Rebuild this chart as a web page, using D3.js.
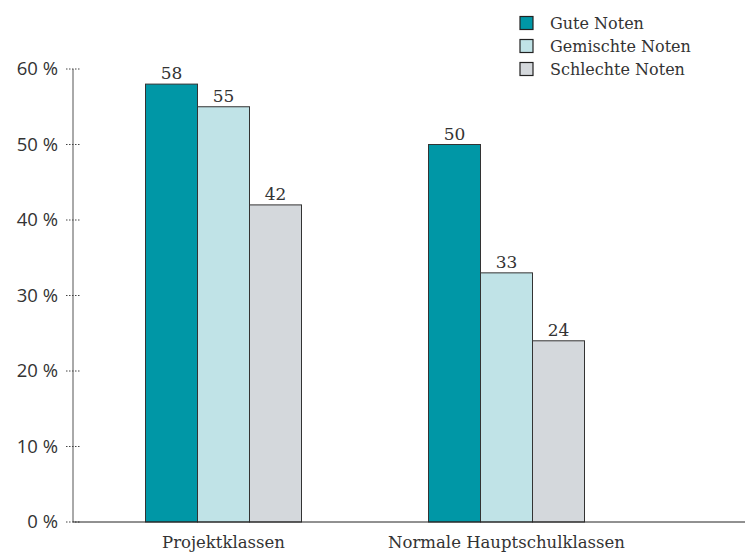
<!DOCTYPE html>
<html>
<head>
<meta charset="utf-8">
<script src="https://cdn.jsdelivr.net/npm/d3@7"></script>
<style>
  body { margin: 0; background: #fff; }
  svg { display: block; }
</style>
</head>
<body>
<svg id="chart"></svg>
<script>
// data
var categories = ["Projektklassen", "Normale Hauptschulklassen"];
var seriesNames = ["Gute Noten", "Gemischte Noten", "Schlechte Noten"];
var guteNoten = [58, 50];
var gemischteNoten = [55, 33];
var schlechteNoten = [42, 24];
var yTicks = [0, 10, 20, 30, 40, 50, 60];

var colors = ["#0097a6", "#c0e3e7", "#d4d8dc"];
var values = [guteNoten, gemischteNoten, schlechteNoten];

var width = 745, height = 554;
var axisX = 73, y0 = 522, yTop = 69;

var svg = d3.select("#chart")
  .attr("width", width)
  .attr("height", height);

//scales
var xScale = d3.scaleBand().domain(categories).range([82, 648]);
var inner = d3.scaleBand().domain(seriesNames).range([0, 156]);
var yScale = d3.scaleLinear().domain([0, 60]).range([y0, yTop]);

//y axis line
svg.append("line")
  .attr("x1", axisX).attr("x2", axisX)
  .attr("y1", yTop).attr("y2", y0)
  .attr("stroke", "#555").attr("stroke-width", 1);

//dotted ticks + labels
var ticks = svg.append("g").selectAll("g")
  .data(yTicks).enter().append("g")
  .attr("transform", function(d) { return "translate(0," + yScale(d) + ")"; });

ticks.append("line")
  .attr("x1", 66).attr("x2", 81)
  .attr("stroke", "#444").attr("stroke-width", 1)
  .attr("stroke-dasharray", "1.5,1.5");

ticks.append("text")
  .attr("x", 58)
  .attr("dy", "0.35em")
  .attr("text-anchor", "end")
  .style("font-family", "'Open Sans', sans-serif")
  .style("font-size", "18.5px")
  .style("fill", "#333")
  .text(function(d) { return d + " %"; });

//bars
var groups = svg.append("g").selectAll("g")
  .data(categories).enter().append("g")
  .attr("transform", function(d) { return "translate(" + xScale(d) + ",0)"; });

groups.each(function(cat, ci) {
  var g = d3.select(this);
  var cx = xScale.bandwidth() / 2 - 78;
  seriesNames.forEach(function(s, si) {
    var v = values[si][ci];
    g.append("rect")
      .attr("x", cx + inner(s))
      .attr("y", yScale(v))
      .attr("width", inner.bandwidth())
      .attr("height", y0 - yScale(v))
      .attr("fill", colors[si])
      .attr("stroke", "#333")
      .attr("stroke-width", 1);
    g.append("text")
      .attr("x", cx + inner(s) + inner.bandwidth() / 2)
      .attr("y", yScale(v) - 5)
      .attr("text-anchor", "middle")
      .style("font-family", "'DejaVu Serif', serif")
      .style("font-size", "17px")
      .style("fill", "#333")
      .text(v);
  });
  g.append("text")
    .attr("x", xScale.bandwidth() / 2)
    .attr("y", 548)
    .attr("text-anchor", "middle")
    .style("font-family", "'DejaVu Serif', serif")
    .style("font-size", "16.5px")
    .style("fill", "#333")
    .text(cat);
});

//x axis line
svg.append("line")
  .attr("x1", axisX).attr("x2", width)
  .attr("y1", y0).attr("y2", y0)
  .attr("stroke", "#222").attr("stroke-width", 1);

//legend
var leg = svg.append("g").selectAll("g")
  .data(seriesNames).enter().append("g")
  .attr("transform", function(d, i) { return "translate(520," + (16.5 + i * 23) + ")"; });

leg.append("rect")
  .attr("width", 13).attr("height", 13)
  .attr("fill", function(d, i) { return colors[i]; })
  .attr("stroke", "#222").attr("stroke-width", 1.2);

leg.append("text")
  .attr("x", 30).attr("y", 6.5)
  .attr("dy", "0.35em")
  .style("font-family", "'DejaVu Serif', serif")
  .style("font-size", "16px")
  .style("fill", "#333")
  .text(function(d) { return d; });
</script>
</body>
</html>
